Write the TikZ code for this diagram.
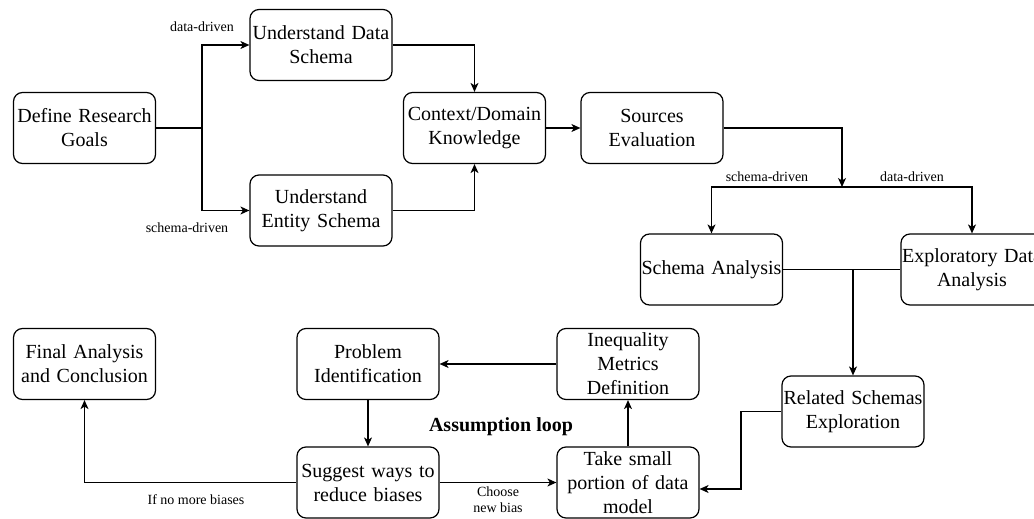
\documentclass[tikz,border=0pt]{standalone}
\usepackage{fontspec}
\setmainfont{Liberation Serif}
\usetikzlibrary{arrows.meta,calc}
\begin{document}
\begin{tikzpicture}[x=1pt,y=-1pt,
  box/.style={draw=black,line width=1.2pt,rounded corners=9pt,minimum width=142pt,minimum height=71pt,
    inner sep=0pt,text width=140pt,align=center,font=\fontsize{20}{24}\selectfont},
  lbl/.style={inner sep=0pt,align=center,font=\fontsize{14}{16}\selectfont},
  arr/.style={line width=1.2pt,-{Stealth[length=9pt,width=8pt,inset=2.5pt]}},
  ln/.style={line width=1.2pt}]
\useasboundingbox (0,0) rectangle (1034,519);
\clip (0,0) rectangle (1034,519);
% boxes
\node[box] (def) at (84.5,128) {Define Research\\Goals};
\node[box] (uds) at (321,45) {Understand Data\\Schema};
\node[box] (ues) at (321,210.5) {Understand\\Entity Schema};
\node[box] (ctx) at (474.5,128) {Context/Domain\\Knowledge};
\node[box] (src) at (652,128) {Sources\\Evaluation};
\node[box] (sa) at (711.5,269.5) {Schema Analysis};
\node[box] (eda) at (972,269.5) {Exploratory Data\\Analysis};
\node[box] (rse) at (853,411.5) {Related Schemas\\Exploration};
\node[box] (imd) at (628,364) {Inequality\\Metrics\\Definition};
\node[box] (pi) at (368,364) {Problem\\Identification};
\node[box] (fac) at (84.5,364) {Final Analysis\\and Conclusion};
\node[box] (sug) at (368,482.5) {Suggest ways to\\reduce biases};
\node[box] (take) at (628,482.5) {Take small\\portion of data\\model};
% labels
\node[lbl] (l1) at (202,27) {data-driven};
\node[lbl] (l2) at (187,228) {schema-driven};
\node[lbl] (l3) at (767,177) {schema-driven};
\node[lbl] (l4) at (912,177) {data-driven};
\node[lbl] (l5) at (196,500) {If no more biases};
\node[lbl] (l6) at (498,500) {Choose\\new bias};
\node[inner sep=0pt,font=\fontsize{20}{24}\selectfont\bfseries] (loop) at (501,427) {Assumption loop};
% junction coordinates
\coordinate (j1) at (202,128);
\coordinate (j2) at (842,187);
\coordinate (j3) at (853,269.5);
\coordinate (j4) at (741,450);
\coordinate (j5) at ([yshift=-6.5pt]take.east);
% connectors
\draw[ln] (def.east) -- (j1);
\draw[arr] (j1) |- (uds.west);
\draw[arr] (j1) |- (ues.west);
\draw[arr] (uds.east) -| (ctx.north);
\draw[arr] (ues.east) -| (ctx.south);
\draw[arr] (ctx) -- (src);
\draw[arr] (src.east) -| (j2);
\draw[arr] (j2) -| (sa.north);
\draw[arr] (j2) -| (eda.north);
\draw[ln] (sa.east) -- (eda.west);
\draw[arr] (j3) -- (rse.north);
\draw[arr] (rse.west) -| (j4) |- (j5);
\draw[arr] (take) -- (imd);
\draw[arr] (imd) -- (pi);
\draw[arr] (pi) -- (sug);
\draw[arr] (sug) -- (take);
\draw[arr] (sug.west) -| (fac.south);
\end{tikzpicture}
\end{document}
